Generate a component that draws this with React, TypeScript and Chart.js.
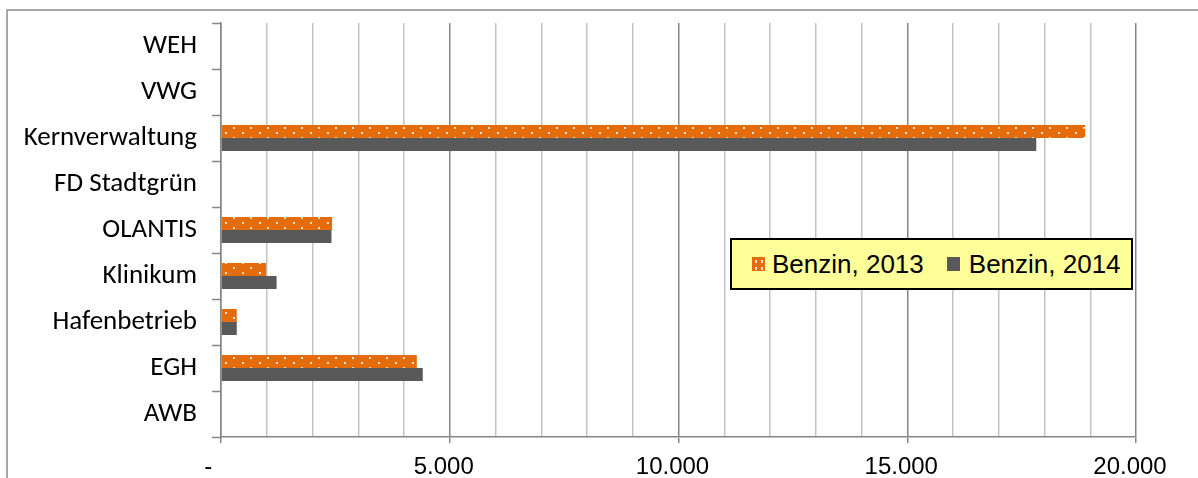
import React, { useEffect, useRef } from "react";
import { Chart, registerables } from "chart.js";

Chart.register(...registerables);

const categories = ["WEH", "VWG", "Kernverwaltung", "FD Stadtgrün", "OLANTIS", "Klinikum", "Hafenbetrieb", "EGH", "AWB"];
const seriesNames = ["Benzin, 2013", "Benzin, 2014"];
const benzin2013 = [0, 0, 18890, 0, 2430, 985, 345, 4280, 0];
const benzin2014 = [0, 0, 17820, 0, 2415, 1215, 345, 4410, 0];
const xMin = 0;
const xMax = 20000;
const xStep = 1000;
const xLabelStep = 5000;

const ORANGE = "#E46C0A";
const GRAY = "#595959";
const AXIS = "#868686";
const MINOR = "#C3C3C3";

function fmt(v: number): string {
  if (v === 0) return "-  ";
  return String(v).replace(/\B(?=(\d{3})+(?!\d))/g, ".");
}

function makePattern(): CanvasPattern | string {
  const c = document.createElement("canvas");
  c.width = 17;
  c.height = 10;
  const g = c.getContext("2d");
  if (!g) return ORANGE;
  g.fillStyle = ORANGE;
  g.fillRect(0, 0, 17, 10);
  g.fillStyle = "rgba(255,235,215,0.95)";
  g.fillRect(4, 2, 2, 2);
  g.fillRect(12, 7, 2, 2);
  const p = g.createPattern(c, "repeat");
  return p || ORANGE;
}

const frame = {
  id: "frame",
  beforeDraw(chart: any) {
    const ctx = chart.ctx;
    ctx.save();
    ctx.strokeStyle = "#8C8C8C";
    ctx.lineWidth = 1.5;
    ctx.beginPath();
    ctx.moveTo(7, 478);
    ctx.lineTo(7, 10);
    ctx.lineTo(1198, 10);
    ctx.stroke();
    ctx.restore();
  },
};

export default function App() {
  const ref = useRef<HTMLCanvasElement>(null);
  useEffect(() => {
    if (!ref.current) return;
    const pattern = makePattern();
    const chart = new Chart(ref.current, {
      type: "bar",
      data: {
        labels: categories,
        datasets: [
          { label: seriesNames[0], data: benzin2013, backgroundColor: pattern as any, borderWidth: 0 },
          { label: seriesNames[1], data: benzin2014, backgroundColor: GRAY, borderWidth: 0 },
        ],
      },
      options: {
        indexAxis: "y",
        animation: false,
        responsive: false,
        maintainAspectRatio: false,
        layout: { padding: { left: 0, top: 23, right: 62, bottom: 0 } },
        plugins: { legend: { display: false }, tooltip: { enabled: false } },
        datasets: { bar: { categoryPercentage: 0.565, barPercentage: 1 } },
        scales: {
          y: {
            type: "category",
            offset: true,
            grid: {
              offset: true,
              drawOnChartArea: false,
              drawTicks: true,
              tickLength: 9,
              tickColor: AXIS,
              tickWidth: 1.5,
            },
            border: { color: AXIS, width: 1.5 },
            ticks: {
              color: "#000",
              padding: 15,
              font: { family: "Carlito, Calibri, Lato, sans-serif", size: 27 },
            },
            afterFit: (s: any) => {
              s.width = 221;
              s.paddingTop = 0;
              s.paddingBottom = 0;
            },
          },
          x: {
            type: "linear",
            min: xMin,
            max: xMax,
            grid: {
              color: (c: any) => (c.tick && c.tick.value % xLabelStep === 0 ? AXIS : MINOR),
              tickColor: (c: any) => (c.tick && c.tick.value % xLabelStep === 0 ? AXIS : "rgba(0,0,0,0)"),
              lineWidth: 1.5,
              tickLength: 6,
              drawTicks: true,
            },
            border: { color: AXIS, width: 1.5 },
            ticks: {
              stepSize: xStep,
              autoSkip: false,
              maxRotation: 0,
              labelOffset: -6,
              padding: 10,
              color: "#000",
              font: { family: "'Liberation Sans', Arial, sans-serif", size: 24 },
              callback: (v: any) => (Number(v) % xLabelStep === 0 ? fmt(Number(v)) : ""),
            },
            afterFit: (s: any) => {
              s.height = 41;
              s.paddingLeft = 0;
              s.paddingRight = 0;
            },
          },
        },
      },
      plugins: [frame],
    });
    return () => chart.destroy();
  }, []);

  const marker = (i: number): React.CSSProperties =>
    i === 0
      ? {
          width: 13,
          height: 14,
          backgroundColor: ORANGE,
          backgroundImage: "radial-gradient(rgba(255,235,215,0.95) 1px, transparent 1.2px)",
          backgroundSize: "6px 7px",
          backgroundPosition: "1px 1px",
        }
      : { width: 13, height: 14, backgroundColor: GRAY };

  return (
    <div style={{ position: "absolute", left: 0, top: 0, width: 1198, height: 478, background: "#fff" }}>
      <canvas ref={ref} width={1198} height={478} style={{ display: "block" }} />
      <div
        style={{
          position: "absolute",
          left: 730,
          top: 238,
          width: 403,
          height: 52,
          boxSizing: "border-box",
          border: "2px solid #000",
          background: "#FFFF99",
          display: "flex",
          alignItems: "center",
          paddingLeft: 20,
          fontFamily: "'Liberation Sans', Arial, sans-serif",
          fontSize: 26,
          color: "#000",
          lineHeight: 1,
        }}
      >
        {seriesNames.map((n, i) => (
          <div key={n} style={{ display: "flex", alignItems: "center", marginLeft: i === 0 ? 0 : 23 }}>
            <div style={marker(i)} />
            <span style={{ marginLeft: i === 0 ? 7 : 9, whiteSpace: "nowrap" }}>{n}</span>
          </div>
        ))}
      </div>
    </div>
  );
}
